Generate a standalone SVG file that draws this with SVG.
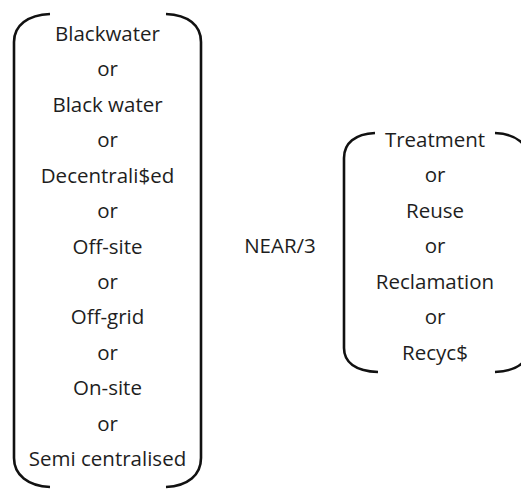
<svg xmlns="http://www.w3.org/2000/svg" width="521" height="489" viewBox="0 0 521 489">
<style>
.t{font-family:"Open Sans","Noto Sans","DejaVu Sans",sans-serif;font-size:20.5px;fill:#1e1e1e;text-anchor:middle}
.b{fill:none;stroke:#111;stroke-width:2.6;stroke-linecap:butt}
</style>
<rect width="521" height="489" fill="#fff"/>
<g id="left-group">
<path class="b" d="M50 14 C28 15 14 25 14 42 L14 458 C14 475 28 486 50 487"/>
<path class="b" d="M166 14 C188 15 201 25 201 42 L201 458 C201 475 188 486 166 487"/>
<text class="t" x="107.5" y="41">Blackwater</text>
<text class="t" x="107.5" y="76.4">or</text>
<text class="t" x="107.5" y="111.8">Black water</text>
<text class="t" x="107.5" y="147.3">or</text>
<text class="t" x="107.5" y="182.7">Decentrali$ed</text>
<text class="t" x="107.5" y="218.1">or</text>
<text class="t" x="107.5" y="253.5">Off-site</text>
<text class="t" x="107.5" y="288.9">or</text>
<text class="t" x="107.5" y="324.4">Off-grid</text>
<text class="t" x="107.5" y="359.8">or</text>
<text class="t" x="107.5" y="395.2">On-site</text>
<text class="t" x="107.5" y="430.6">or</text>
<text class="t" x="107.5" y="466">Semi centralised</text>
</g>
<g id="operator">
<text class="t" x="280" y="253">NEAR/3</text>
</g>
<g id="right-group">
<path class="b" d="M375 133 C355 134 344 143 344 158 L344 348 C344 362 355 371 378 372"/>
<path class="b" d="M495 133 C517 134 529 145 529 160 L529 346 C529 362 517 371 495 372"/>
<text class="t" x="435" y="147">Treatment</text>
<text class="t" x="435" y="182.4">or</text>
<text class="t" x="435" y="217.8">Reuse</text>
<text class="t" x="435" y="253.3">or</text>
<text class="t" x="435" y="288.7">Reclamation</text>
<text class="t" x="435" y="324.1">or</text>
<text class="t" x="435" y="359.5">Recyc$</text>
</g>
<g id="connectors"></g>
</svg>
